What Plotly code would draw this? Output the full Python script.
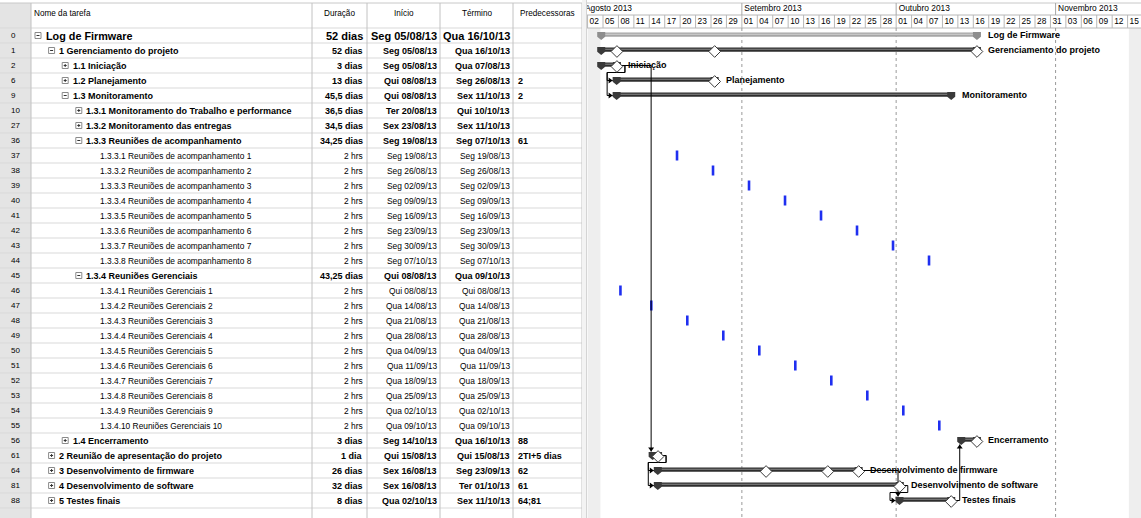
import plotly.graph_objects as go
from datetime import datetime, timedelta

# ---------------- sheet data ----------------
task_ids = [0, 1, 2, 6, 9, 10, 27, 36, 37, 38, 39, 40, 41, 42, 43, 44, 45,
            46, 47, 48, 49, 50, 51, 52, 53, 54, 55, 56, 61, 64, 81, 88]
task_names = (
    ["Log de Firmware", "1 Gerenciamento do projeto", "1.1 Iniciação", "1.2 Planejamento",
     "1.3 Monitoramento", "1.3.1 Monitoramento do Trabalho e performance",
     "1.3.2 Monitoramento das entregas", "1.3.3 Reuniões de acompanhamento"]
    + [f"1.3.3.{k} Reuniões de acompanhamento {k}" for k in range(1, 9)]
    + ["1.3.4 Reuniões Gerenciais"]
    + [f"1.3.4.{k} Reuniões Gerenciais {k}" for k in range(1, 11)]
    + ["1.4 Encerramento", "2 Reunião de apresentação do projeto",
       "3 Desenvolvimento de firmware", "4 Desenvolvimento de software", "5 Testes finais"]
)
outline_level = [0, 1, 2, 2, 2, 3, 3, 3] + [4] * 8 + [3] + [4] * 10 + [2, 1, 1, 1, 1]
outline_state = ["-", "-", "+", "+", "-", "+", "+", "-"] + [""] * 8 + ["-"] + [""] * 10 + ["+"] * 5
durations = (["52 dias", "52 dias", "3 dias", "13 dias", "45,5 dias", "36,5 dias", "34,5 dias",
              "34,25 dias"] + ["2 hrs"] * 8 + ["43,25 dias"] + ["2 hrs"] * 10
             + ["3 dias", "1 dia", "26 dias", "32 dias", "8 dias"])
start_text = ["Seg 05/08/13", "Seg 05/08/13", "Seg 05/08/13", "Qui 08/08/13", "Qui 08/08/13",
              "Ter 20/08/13", "Sex 23/08/13", "Seg 19/08/13",
              "Seg 19/08/13", "Seg 26/08/13", "Seg 02/09/13", "Seg 09/09/13", "Seg 16/09/13",
              "Seg 23/09/13", "Seg 30/09/13", "Seg 07/10/13",
              "Qui 08/08/13",
              "Qui 08/08/13", "Qua 14/08/13", "Qua 21/08/13", "Qua 28/08/13", "Qua 04/09/13",
              "Qua 11/09/13", "Qua 18/09/13", "Qua 25/09/13", "Qua 02/10/13", "Qua 09/10/13",
              "Seg 14/10/13", "Qui 15/08/13", "Sex 16/08/13", "Sex 16/08/13", "Qua 02/10/13"]
finish_text = ["Qua 16/10/13", "Qua 16/10/13", "Qua 07/08/13", "Seg 26/08/13", "Sex 11/10/13",
               "Qui 10/10/13", "Sex 11/10/13", "Seg 07/10/13",
               "Seg 19/08/13", "Seg 26/08/13", "Seg 02/09/13", "Seg 09/09/13", "Seg 16/09/13",
               "Seg 23/09/13", "Seg 30/09/13", "Seg 07/10/13",
               "Qua 09/10/13",
               "Qui 08/08/13", "Qua 14/08/13", "Qua 21/08/13", "Qua 28/08/13", "Qua 04/09/13",
               "Qua 11/09/13", "Qua 18/09/13", "Qua 25/09/13", "Qua 02/10/13", "Qua 09/10/13",
               "Qua 16/10/13", "Qui 15/08/13", "Seg 23/09/13", "Ter 01/10/13", "Sex 11/10/13"]
predecessors = ["", "", "", "2", "2", "", "", "61"] + [""] * 8 + [""] + [""] * 10 + \
               ["88", "2TI+5 dias", "62", "61", "64;81"]

# how each row is drawn in the chart
bar_kind = (["project", "summary", "summary", "summary", "summary", "none", "none", "none"]
            + ["meeting"] * 8 + ["none"] + ["meeting"] * 10 + ["summary"] * 5)
# rolled-up milestone dates shown on summary bars (task id -> dates)
rollups = {1: ["07/08/13", "26/08/13", "16/10/13"], 2: ["07/08/13"], 6: ["26/08/13"],
           56: ["16/10/13"], 61: ["15/08/13"], 64: ["05/09/13", "17/09/13", "23/09/13"],
           81: ["01/10/13"], 88: ["11/10/13"]}
labelled_ids = [0, 1, 2, 6, 9, 56, 64, 81, 88]
links = [(2, 6), (2, 9), (2, 61), (61, 64), (61, 81), (64, 88), (81, 88), (88, 56)]

month_names = ["Agosto 2013", "Setembro 2013", "Outubro 2013", "Novembro 2013"]
month_starts = ["01/08/13", "01/09/13", "01/10/13", "01/11/13"]
nonworking = [("02/08/13", "04/08/13 12"), ("15/11/13 06", "18/11/13")]

headers = ["Nome da tarefa", "Duração", "Início", "Término", "Predecessoras"]

# ---------------- geometry ----------------
W, H = 1141, 518
ROW_H = 15.0
ROW0_Y = 35.5
TABLE_W = 587
PX_PER_DAY = 5.143
DAY0 = datetime(2013, 8, 5)
DAY0_PX = 603.0
col_edges = [31, 312, 367, 440, 513, 582]
FONT = "Liberation Sans, Arial, sans-serif"


def px_y(p):
    return (p - ROW0_Y) / ROW_H


def row_y(i, dpx=0.0):
    return i + dpx / ROW_H


def shift(d, px):
    return d + timedelta(days=px / PX_PER_DAY)


def parse(s, hour=0):
    parts = s.split()
    datepart = [p for p in parts if "/" in p][0]
    if len(parts) > 1 and "/" not in parts[-1]:
        hour = int(parts[-1])
    dd, mm, yy = datepart.split("/")
    return datetime(2000 + int(yy), int(mm), int(dd), hour)


def ds(d):
    return d.strftime("%Y-%m-%d %H:%M:%S")


x_lo = shift(DAY0, 587 - DAY0_PX)
x_hi = shift(DAY0, W - DAY0_PX)

starts = [parse(s, 8) for s in start_text]
finishes = [parse(s, 17) for s in finish_text]
row_of = {t: i for i, t in enumerate(task_ids)}

shapes, ann = [], []


def add_rect(x0, y0, x1, y1, fill=None, line=None, xref="x2", lw=1, layer="below"):
    shapes.append(dict(type="rect", xref=xref, yref="y", x0=x0, x1=x1, y0=y0, y1=y1,
                       fillcolor=fill if fill else "rgba(0,0,0,0)",
                       line=dict(color=line if line else "rgba(0,0,0,0)", width=lw if line else 0),
                       layer=layer))


def add_line(x0, y0, x1, y1, color, xref="x2", lw=1, dash="solid", layer="below"):
    shapes.append(dict(type="line", xref=xref, yref="y", x0=x0, x1=x1, y0=y0, y1=y1,
                       line=dict(color=color, width=lw, dash=dash), layer=layer))


def add_text(x, y, s, size=8.4, bold=False, anchor="left", xref="x2"):
    ann.append(dict(x=x, y=y, xref=xref, yref="y", text=f"<b>{s}</b>" if bold else s,
                    showarrow=False, xanchor=anchor, yanchor="middle", borderpad=0,
                    font=dict(family=FONT, size=size, color="#000000")))


fig = go.Figure()

# ---------------- sheet ----------------
HDR_TOP, HDR_BOT = 3, 28
add_rect(0, px_y(HDR_TOP), col_edges[0], px_y(H), fill="#e4e4e4")
for k in range(len(task_ids) + 2):
    yy = px_y(HDR_BOT + ROW_H * k)
    add_line(0, yy, col_edges[-1], yy, "#d9d9d9")
add_line(0, px_y(HDR_TOP), col_edges[-1], px_y(HDR_TOP), "#c8c8c8")
for xe in col_edges:
    add_line(xe, px_y(HDR_TOP), xe, px_y(H), "#c2c2c2")
# splitter between sheet and chart
add_rect(582, px_y(0), 587, px_y(H), fill="#f3f3f3")
add_line(587, px_y(0), 587, px_y(H), "#b4b4b4")

hdr_y = px_y(13)
add_text(33, hdr_y, headers[0], size=8.2)
for j, h in enumerate(headers[1:], start=1):
    add_text((col_edges[j] + col_edges[j + 1]) / 2, hdr_y, h, size=8.2, anchor="center")

for i, tid in enumerate(task_ids):
    y = row_y(i)
    bold = outline_state[i] != ""
    size = 10.8 if i == 0 else (9.0 if bold else 8.4)
    add_text(9.5, y, str(tid), size=8.0)
    lvl = outline_level[i]
    tx = 44.5 + 13.6 * lvl
    add_text(tx, y, task_names[i], size=size, bold=bold)
    if outline_state[i]:
        bx = tx - 9.5
        add_rect(bx, row_y(i, -3), bx + 6, row_y(i, 3), fill="#ffffff", line="#8a8a8a")
        add_line(bx + 1.5, y, bx + 4.5, y, "#333333")
        if outline_state[i] == "+":
            add_line(bx + 3, row_y(i, -1.5), bx + 3, row_y(i, 1.5), "#333333")
    dsize = 11.0 if i == 0 else size
    add_text(363.5, y, durations[i], size=dsize, bold=bold, anchor="right")
    add_text(437.5, y, start_text[i], size=dsize, bold=bold, anchor="right")
    add_text(511.0, y, finish_text[i], size=dsize, bold=bold, anchor="right")
    if predecessors[i]:
        add_text(516.5, y, predecessors[i], size=dsize, bold=bold)

# ---------------- timescale ----------------
for a, b in nonworking:
    add_rect(ds(parse(a)), px_y(HDR_BOT), ds(parse(b)), px_y(H), fill="#eeeeee", xref="x")
add_line(ds(x_lo), px_y(15), ds(x_hi), px_y(15), "#b8b8b8", xref="x")
add_line(ds(x_lo), px_y(HDR_BOT), ds(x_hi), px_y(HDR_BOT), "#b8b8b8", xref="x")
add_line(ds(x_lo), px_y(HDR_TOP), ds(x_hi), px_y(HDR_TOP), "#c8c8c8", xref="x")
for m in month_starts:
    d = ds(parse(m))
    add_line(d, px_y(HDR_TOP), d, px_y(15), "#a8a8a8", xref="x")
    add_line(d, px_y(HDR_BOT), d, px_y(H), "#9a9a9a", xref="x", dash="dot")

tick_days, tick_labels = [], []
d = datetime(2013, 8, 2)
while d < x_hi:
    tick_days.append(d)
    tick_labels.append(d.strftime("%d"))
    add_line(ds(d), px_y(15), ds(d), px_y(HDR_BOT), "#b8b8b8", xref="x")
    d += timedelta(days=3)

fig.add_trace(go.Scatter(
    x=[ds(shift(parse(m), 2.5)) for m in month_starts], y=[px_y(8.5)] * len(month_starts),
    text=month_names, mode="text", textposition="middle right", cliponaxis=True,
    textfont=dict(family=FONT, size=8.4, color="#000"), hoverinfo="skip", showlegend=False))
fig.add_trace(go.Scatter(
    x=[ds(shift(t, 2.0)) for t in tick_days], y=[px_y(21.5)] * len(tick_days),
    text=tick_labels, mode="text", textposition="middle right", cliponaxis=True,
    textfont=dict(family=FONT, size=8.4, color="#000"), hoverinfo="skip", showlegend=False))

# ---------------- bars ----------------
caps = {"project": ([], []), "summary": ([], [])}
style = {"project": ("#a6a6a6", "#d2d2d2", "#8e8e8e"),
         "summary": ("#2e2e2e", "#8a8a8a", "#3a3a3a")}
for i, kind in enumerate(bar_kind):
    if kind in style:
        body, hi, capc = style[kind]
        s0 = shift(starts[i], -3.5)
        f0 = finishes[i]
        add_rect(ds(s0), row_y(i, -3), ds(f0), row_y(i, 1.2), fill=body, xref="x")
        add_rect(ds(s0), row_y(i, -1.8), ds(f0), row_y(i, -0.8), fill=hi, xref="x")
        xs, ys = caps[kind]
        for c in (s0, f0):
            xs += [ds(shift(c, -4)), ds(shift(c, 4)), ds(shift(c, 4)), ds(c), ds(shift(c, -4)),
                   ds(shift(c, -4)), None]
            ys += [row_y(i, -3.5), row_y(i, -3.5), row_y(i, 1.2), row_y(i, 4.5), row_y(i, 1.2),
                   row_y(i, -3.5), None]
    elif kind == "meeting":
        s0 = starts[i]
        add_rect(ds(shift(s0, -1)), row_y(i, -5), ds(shift(s0, 1.6)), row_y(i, 5),
                 fill="#1f2ff0", xref="x")

for kind, (xs, ys) in caps.items():
    fig.add_trace(go.Scatter(x=xs, y=ys, mode="lines", fill="toself",
                             fillcolor=style[kind][2], line=dict(width=0),
                             hoverinfo="skip", showlegend=False))

# ---------------- dependency links ----------------
lx, ly, ax, ay = [], [], [], []


def arrow(tip, y, direction):
    if direction == "right":
        pts = [(tip, y), (shift(tip, -4), y - 3 / ROW_H), (shift(tip, -4), y + 3 / ROW_H)]
    elif direction == "down":
        pts = [(tip, y), (shift(tip, -3), y - 4 / ROW_H), (shift(tip, 3), y - 4 / ROW_H)]
    else:
        pts = [(tip, y), (shift(tip, -3), y + 4 / ROW_H), (shift(tip, 3), y + 4 / ROW_H)]
    for p in pts + [pts[0]]:
        ax.append(ds(p[0]))
        ay.append(p[1])
    ax.append(None)
    ay.append(None)


for p, s in links:
    ip, is_ = row_of[p], row_of[s]
    fin, st = finishes[ip], starts[is_]
    gap_px = (st - fin).total_seconds() / 86400 * PX_PER_DAY
    yp, ys_ = row_y(ip), row_y(is_)
    if gap_px > 8:
        xv = shift(st, -5)
        if is_ > ip:
            yend = row_y(is_, -4)
            pts = [(fin, yp), (xv, yp), (xv, yend)]
            arrow(xv, yend, "down")
        else:
            yend = row_y(is_, 4)
            pts = [(fin, yp), (xv, yp), (xv, yend)]
            arrow(xv, yend, "up")
    else:
        xr = shift(fin, 8)
        xl = shift(st, -13)
        ymid = row_y(ip, 7)
        tip = shift(st, -7.5)
        pts = [(fin, yp), (xr, yp), (xr, ymid), (xl, ymid), (xl, ys_), (tip, ys_)]
        arrow(tip, ys_, "right")
    for q in pts:
        lx.append(ds(q[0]))
        ly.append(q[1])
    lx.append(None)
    ly.append(None)

fig.add_trace(go.Scatter(x=lx, y=ly, mode="lines", line=dict(color="#000000", width=1),
                         hoverinfo="skip", showlegend=False))
fig.add_trace(go.Scatter(x=ax, y=ay, mode="lines", fill="toself", fillcolor="#000000",
                         line=dict(width=0), hoverinfo="skip", showlegend=False))

# rolled-up milestones
mx, my = [], []
for tid, dates in rollups.items():
    i = row_of[tid]
    for dtxt in dates:
        mx.append(ds(parse(dtxt, 17)))
        my.append(row_y(i, 1))
fig.add_trace(go.Scatter(x=mx, y=my, mode="markers",
                         marker=dict(symbol="diamond", size=9, color="#ffffff",
                                     line=dict(color="#3a3a3a", width=1)),
                         hoverinfo="skip", showlegend=False))

# bar labels
for tid in labelled_ids:
    i = row_of[tid]
    name = task_names[i].split(" ", 1)[1] if tid != 0 else task_names[i]
    add_text(ds(shift(finishes[i], 10)), row_y(i, -1), name, size=9.0, bold=True, xref="x")

# anchor for the sheet axis
fig.add_trace(go.Scatter(x=[0, TABLE_W], y=[0, 0], xaxis="x2", yaxis="y", mode="markers",
                         marker=dict(opacity=0), hoverinfo="skip", showlegend=False))

fig.update_layout(
    width=W, height=H, margin=dict(l=0, r=0, t=0, b=0),
    paper_bgcolor="#ffffff", plot_bgcolor="#ffffff", showlegend=False,
    xaxis=dict(type="date", domain=[TABLE_W / W, 1], range=[ds(x_lo), ds(x_hi)],
               visible=False, fixedrange=True),
    xaxis2=dict(domain=[0, TABLE_W / W], range=[0, TABLE_W], visible=False,
                anchor="y", fixedrange=True),
    yaxis=dict(range=[px_y(H), px_y(0)], visible=False, fixedrange=True),
    shapes=shapes, annotations=ann,
)

fig.write_html("out.html")
